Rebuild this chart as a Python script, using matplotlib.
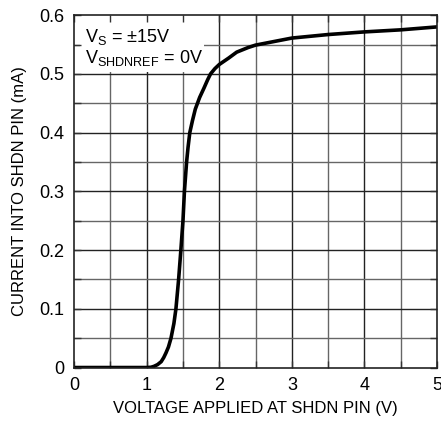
import matplotlib
matplotlib.use("Agg")
import matplotlib.pyplot as plt
from matplotlib.patches import Rectangle

plt.rcParams['font.family'] = ['Liberation Sans', 'DejaVu Sans']

voltage = [0, 1.0, 1.06, 1.10, 1.15, 1.20, 1.235, 1.266, 1.30, 1.335, 1.375, 1.403,
           1.44, 1.471, 1.50, 1.52, 1.55, 1.57, 1.594, 1.63, 1.67, 1.70, 1.73,
           1.79, 1.84, 1.88, 1.94, 2.0, 2.13, 2.24, 2.4, 2.5, 3.0, 3.5, 4.0, 4.5, 5.0]
current = [0, 0, 0.0005, 0.002, 0.005, 0.01, 0.017, 0.025, 0.035, 0.05, 0.075, 0.10,
           0.15, 0.20, 0.25, 0.30, 0.35, 0.375, 0.40, 0.42, 0.44, 0.45, 0.46,
           0.476, 0.49, 0.50, 0.509, 0.516, 0.527, 0.537, 0.545, 0.549, 0.561, 0.567, 0.5715, 0.575, 0.58]

xticks = [0, 1, 2, 3, 4, 5]
yticks = [0, 0.1, 0.2, 0.3, 0.4, 0.5, 0.6]
xticklabels = ['0', '1', '2', '3', '4', '5']
yticklabels = ['0', '0.1', '0.2', '0.3', '0.4', '0.5', '0.6']
xgrid = [0.5, 1, 1.5, 2, 2.5, 3, 3.5, 4, 4.5]
ygrid = [0.05, 0.1, 0.15, 0.2, 0.25, 0.3, 0.35, 0.4, 0.45, 0.5, 0.55]

fig = plt.figure(figsize=(4.41, 4.21), dpi=100)
ax = fig.add_axes([0.168, 0.127, 0.823, 0.837])
ax.set_xlim(0, 5)
ax.set_ylim(0, 0.6)

for gx in xgrid:
    ax.axvline(gx, color='#222222' if gx % 1 == 0 else '#666666', lw=1.0, zorder=0.5)
for gy in ygrid:
    ax.axhline(gy, color='#222222' if round(gy * 20) % 2 == 0 else '#666666', lw=1.0, zorder=0.5)

ax.add_patch(Rectangle((0.08, 0.503), 1.71, 0.097, facecolor='white', edgecolor='none', zorder=1))

ax.plot(voltage, current, color='black', lw=2.6, zorder=2, solid_capstyle='round',
        solid_joinstyle='round')

ax.set_xticks(xticks)
ax.set_xticklabels(xticklabels)
ax.set_yticks(yticks)
ax.set_yticklabels(yticklabels)
ax.set_xticks(xgrid + [0, 5], minor=True)
ax.set_yticks(ygrid, minor=True)
ax.tick_params(which='both', direction='in', length=5, width=1, top=True, right=True,
               labelsize=13, color='#333333')
ax.tick_params(axis='x', pad=7)
ax.tick_params(axis='y', pad=7)
for s in ax.spines.values():
    s.set_linewidth(1.2)
    s.set_color('#222222')

ax.text(0.15, 0.555, r'V$_\mathregular{S}$ = ±15V', fontsize=13, zorder=3, va='baseline')
ax.text(0.15, 0.518, r'V$_\mathregular{SHDNREF}$ = 0V', fontsize=13, zorder=3, va='baseline')

ax.set_xlabel('VOLTAGE APPLIED AT SHDN PIN (V)', fontsize=12, labelpad=5)
ax.set_ylabel('CURRENT INTO SHDN PIN (mA)', fontsize=12, labelpad=9)

fig.savefig('out.png', dpi=100)
